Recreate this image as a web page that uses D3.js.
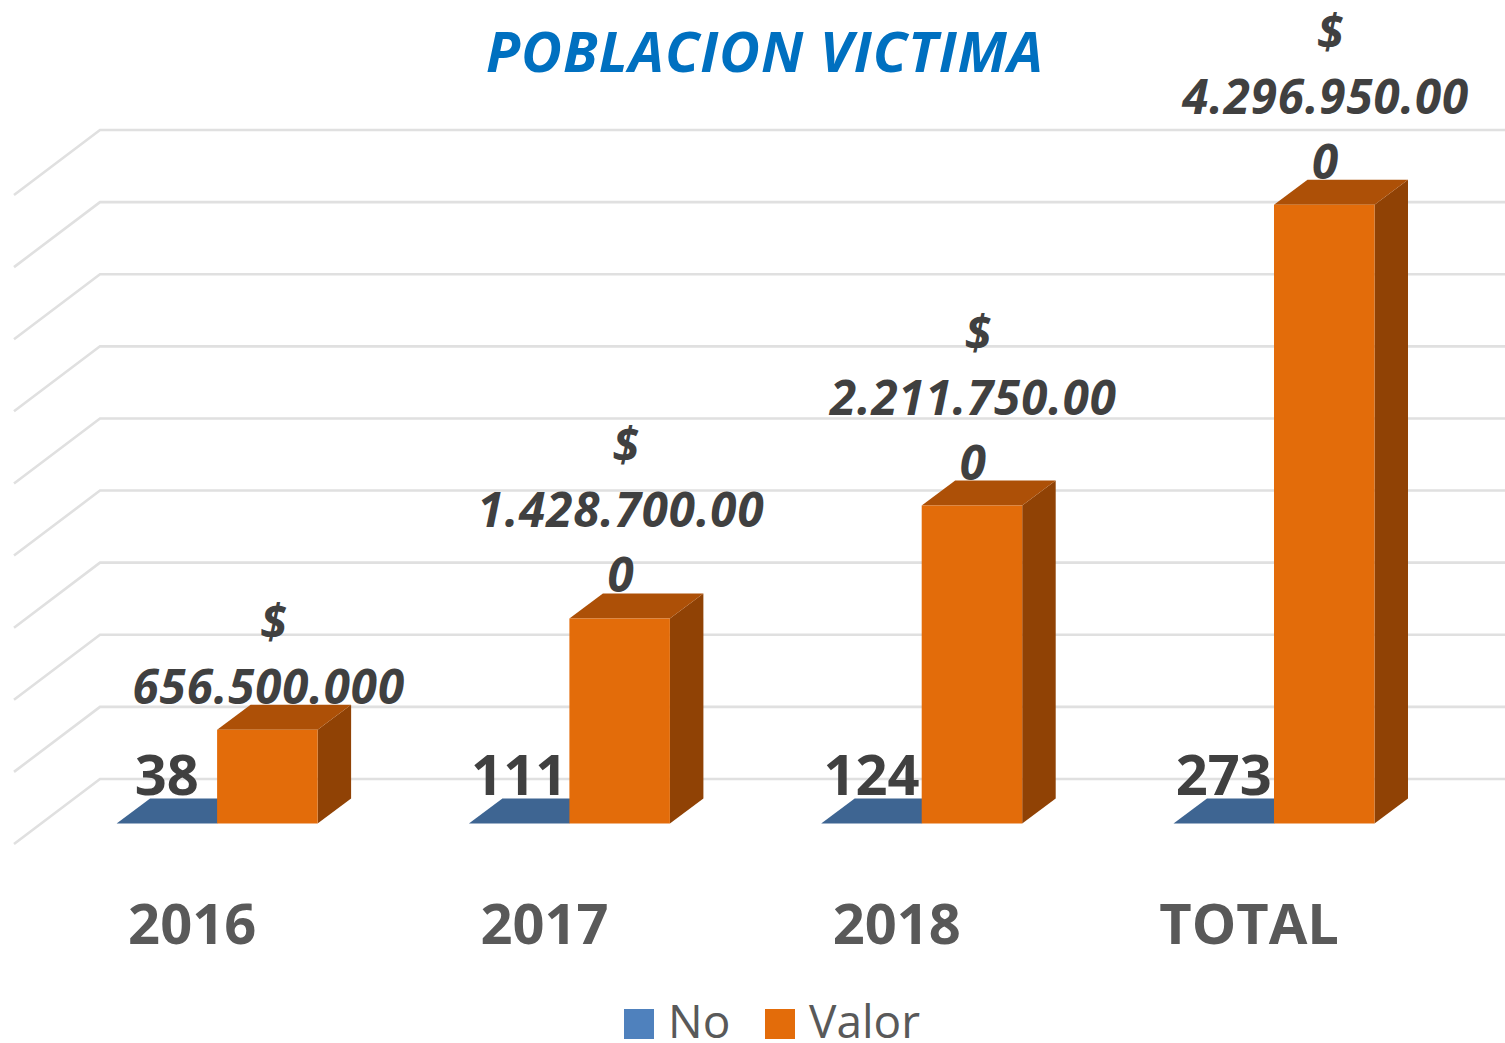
<!DOCTYPE html>
<html><head><meta charset="utf-8">
<script src="https://cdnjs.cloudflare.com/ajax/libs/d3/7.8.5/d3.min.js"></script>
<style>html,body{margin:0;padding:0;background:#fff;overflow:hidden}svg{display:block}text{font-family:"Open Sans",sans-serif}</style>
</head><body><svg id="c" width="1505" height="1043"></svg>
<script>
const categories = ["2016","2017","2018","TOTAL"];
const noValues = [38,111,124,273];
const valorValues = [656500000,1428700000,2211750000,4296950000];
const valorLabels = [["$","656.500.000"],["$","1.428.700.00","0"],["$","2.211.750.00","0"],["$","4.296.950.00","0"]];
const gridTicks = [0,5e8,1e9,1.5e9,2e9,2.5e9,3e9,3.5e9,4e9,4.5e9];
const legendItems = ["No","Valor"];

const svg = d3.select("#c");
const x = d3.scaleBand().domain(categories).range([16,16+352.3*4]);
const y = d3.scaleLinear().domain([0,4.5e9]).range([779,130]);
const wallX = 100, floorDX = 86, floorDY = 65, barDrop = 44.5, barW = 100.5, barInset = 100.6, depthX = 33.5, depthY = 25, topInset = 1;
const colors = {no:{front:"#4F81BD",top:"#3E6592",side:"#2F4D70"},valor:{front:"#E36C0A",top:"#AD5007",side:"#904205"}};

const grid = svg.append("g").attr("fill","none").attr("stroke","#E0E0E0").attr("stroke-width",2.6);
grid.selectAll("path").data(gridTicks).join("path")
  .attr("d",v=>`M${wallX-floorDX},${y(v)+floorDY}L${wallX},${y(v)}L1505,${y(v)}`);

function box(g,bx,val,c,inset){
  const b=y(0)+barDrop, t=b-(y(0)-y(val))+inset;
  const pts=a=>a.map(p=>p.join(",")).join(" ");
  g.append("polygon").attr("fill",c.side).attr("points",pts([[bx+barW,t],[bx+barW+depthX,t-depthY],[bx+barW+depthX,b-depthY],[bx+barW,b]]));
  g.append("polygon").attr("fill",c.top).attr("points",pts([[bx,t],[bx+depthX,t-depthY],[bx+barW+depthX,t-depthY],[bx+barW,t]]));
  g.append("polygon").attr("fill",c.front).attr("points",pts([[bx,t],[bx+barW,t],[bx+barW,b],[bx,b]]));
}
const bars=svg.append("g");
categories.forEach((cat,i)=>{
  const left=x(cat)+barInset;
  box(bars,left,noValues[i],colors.no,0);
  box(bars,left+barW,valorValues[i],colors.valor,topInset);
});

const labels=svg.append("g");
categories.forEach((cat,i)=>{
  const left=x(cat)+barInset;
  labels.append("text").attr("x",left+barW/2).attr("y",795).attr("text-anchor","middle")
    .attr("font-size",56).attr("font-weight",700).attr("fill","#404040").text(noValues[i]);
  const lines=valorLabels[i];
  const top=y(0)+barDrop-(y(0)-y(valorValues[i]));
  const last=top-25;
  const cx=left+barW*1.5+1.4;
  lines.forEach((ln,j)=>{
    labels.append("text").attr("x",cx+(ln==="$"?5:0)).attr("y",last-(lines.length-1-j)*65)
      .attr("text-anchor","middle").attr("font-size",47.5).attr("font-weight",700).attr("font-style","italic")
      .attr("letter-spacing",0.9).attr("fill","#404040").text(ln);
  });
});

const axis=svg.append("g").attr("transform","translate(0,944)")
  .call(d3.axisBottom(x).tickSize(0));
axis.select(".domain").remove();
axis.selectAll("text").attr("y",0).attr("dy",0).attr("font-size",56).attr("font-weight",700)
  .attr("font-family",'"Open Sans",sans-serif').attr("fill","#595959");

svg.append("text").attr("x",765).attr("y",72).attr("text-anchor","middle").attr("font-size",56)
  .attr("font-weight",700).attr("font-style","italic").attr("letter-spacing",1).attr("fill","#0070C0").text("POBLACION VICTIMA");

const legendX=d3.scaleOrdinal().domain(legendItems).range([624,765]);
const legendC={No:colors.no.front,Valor:colors.valor.front};
const lg=svg.append("g");
legendItems.forEach(k=>{
  lg.append("rect").attr("x",legendX(k)).attr("y",1009).attr("width",30).attr("height",30).attr("fill",legendC[k]);
  lg.append("text").attr("x",legendX(k)+44).attr("y",1038).attr("font-size",46).attr("fill","#595959").text(k);
});
</script></body></html>
